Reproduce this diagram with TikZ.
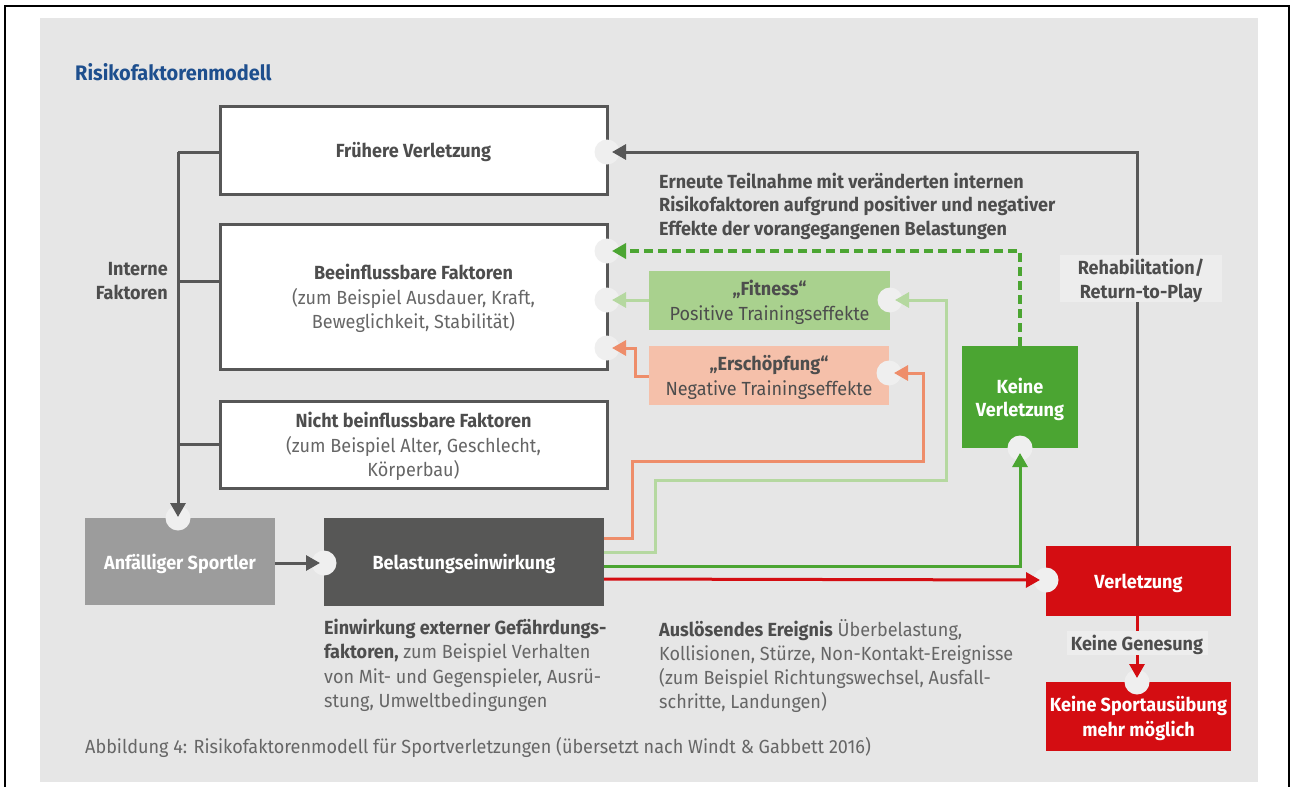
\documentclass[tikz,border=0pt]{standalone}
\usepackage{fontspec}
\setmainfont[FakeStretch=0.95]{Fira Sans}
\usetikzlibrary{arrows.meta,calc}
\definecolor{bgc}{HTML}{E6E6E6}
\definecolor{notchc}{HTML}{EFEFEF}
\definecolor{dgray}{HTML}{575757}
\definecolor{tdark}{HTML}{4D4D4D}
\definecolor{tlight}{HTML}{666666}
\definecolor{titleblue}{HTML}{1E4F8E}
\definecolor{anfc}{HTML}{9C9C9C}
\definecolor{belc}{HTML}{575756}
\definecolor{fitfill}{HTML}{A9D18E}
\definecolor{fitline}{HTML}{B5D8A0}
\definecolor{ersfill}{HTML}{F5C0AA}
\definecolor{ersline}{HTML}{EE8D6A}
\definecolor{greenc}{HTML}{4BA532}
\definecolor{redc}{HTML}{D40D12}
\definecolor{labelbg}{HTML}{EDEDED}
\tikzset{
  x=1pt, y=-1pt,
  txt/.style={font=\fontsize{19}{24.5}\selectfont, text=tlight, inner sep=0pt},
  wbox/.style={txt, text depth=0pt, draw=dgray, line width=3pt, fill=white, align=center, minimum width=387pt},
  fbox/.style={txt, text depth=0pt, align=center, text=white, font=\fontsize{19}{24.5}\selectfont\bfseries},
  notch/.style={circle, fill=notchc, minimum size=25pt, inner sep=0pt},
  tip/.style={-{Triangle[length=14pt,width=15pt]}},
  dline/.style={line width=3pt, draw=dgray, tip},
  gline/.style={line width=3pt, draw=greenc, tip},
  fline/.style={line width=3pt, draw=fitline, tip},
  eline/.style={line width=3pt, draw=ersline, tip},
  rline/.style={line width=3pt, draw=redc, tip},
  lbl/.style={txt, text depth=0pt, fill=labelbg, align=center, font=\fontsize{19}{24.5}\selectfont\bfseries, text=tdark},
}
\begin{document}
\begin{tikzpicture}
\useasboundingbox (0,0) rectangle (1291,787);
\fill[white] (0,0) rectangle (1291,787);
\fill[bgc] (40,18) rectangle (1258,782);
\draw[line width=2pt] (5,787) -- (5,5.5) -- (1289,5.5) -- (1289,787);

% title
\node[txt, anchor=west, text=titleblue, font=\fontsize{21}{24}\selectfont\bfseries] (title) at (75,72) {Risikofaktorenmodell};

% white boxes
\node[wbox, minimum height=88pt] (fru) at (413.5,150) {\textbf{\color{tdark}Frühere Verletzung}};
\node[wbox, minimum height=145pt] (bee) at (413.5,296.5) {\textbf{\color{tdark}Beeinflussbare Faktoren}\\(zum Beispiel Ausdauer, Kraft,\\Beweglichkeit, Stabilität)};
\node[wbox, minimum height=87pt] (nicht) at (413.5,444.5) {\textbf{\color{tdark}Nicht beinflussbare Faktoren}\\(zum Beispiel Alter, Geschlecht,\\Körperbau)};

% filled boxes
\node[fbox, fill=anfc, minimum width=190pt, minimum height=87pt] (anf) at (180,561.5) {Anfälliger Sportler};
\node[fbox, fill=belc, minimum width=280pt, minimum height=88pt] (bel) at (464,562) {Belastungseinwirkung};
\node[txt, text depth=0pt, fill=fitfill, align=center, minimum width=241pt, minimum height=59pt, text=tdark] (fit) at (769.5,300.5) {\textbf{„Fitness“}\\Positive Trainingseffekte};
\node[txt, text depth=0pt, fill=ersfill, align=center, minimum width=240pt, minimum height=59pt, text=tdark] (ers) at (769,375.5) {\textbf{„Erschöpfung“}\\Negative Trainingseffekte};
\node[fbox, fill=greenc, minimum width=116pt, minimum height=102pt, font=\fontsize{19}{23}\selectfont\bfseries] (kv) at (1020,397) {Keine\\Verletzung};
\node[fbox, fill=redc, minimum width=185pt, minimum height=70pt] (verl) at (1138.5,581) {Verletzung};
\node[fbox, fill=redc, minimum width=185pt, minimum height=69pt] (ksp) at (1138.5,716.5) {Keine Sportausübung\\mehr möglich};

% notches
\node[notch] (c1) at (607,152) {};
\node[notch] (c2) at (607,251) {};
\node[notch] (c3) at (607,300) {};
\node[notch] (c4) at (607,348) {};
\node[notch] (c5) at (890,300) {};
\node[notch] (c6) at (889,373) {};
\node[notch] (c7) at (1020,448) {};
\node[notch] (c8) at (1046,580) {};
\node[notch] (c9) at (1137,682) {};
\node[notch] (c10) at (178,518) {};
\node[notch] (c11) at (324,563) {};

% bend points
\coordinate (vl) at (178,152);
\coordinate (ra) at (1137,546);
\coordinate (ea) at (635,376);
\coordinate (fa) at (655,552);
\coordinate (fb) at (946,480);
\coordinate (sa) at (632,538);
\coordinate (sb) at (923,461);
\coordinate (gs) at (604,566);
\coordinate (rs) at (604,579);
\coordinate (bs) at (178,281);

% internal factors bracket
\draw[line width=3pt, draw=dgray] (fru.west |- vl) -- (vl);
\draw[line width=3pt, draw=dgray] (bee.west |- bs) -- (bs);
\draw[line width=3pt, draw=dgray] (nicht.west) -- (vl |- nicht.west);
\draw[dline, shorten >=1pt] (vl) -- (c10.center);
\node[txt, text depth=0pt, align=right, anchor=east, font=\fontsize{19}{24.5}\selectfont\bfseries, text=tdark] (intern) at (168,281) {Interne\\Faktoren};

% main flow
\draw[dline, shorten >=4pt] (anf.east |- c11) -- (c11.center);
\draw[dline, shorten >=5pt] (ra) -- (ra |- c1) -- (c1.center);
\draw[gline, line width=3.5pt, dashed, dash pattern=on 9pt off 5pt, shorten >=5pt] (kv.north) -- (kv.north |- c2) -- (c2.center);
\draw[fline, shorten >=5pt] (fit.west |- c3) -- (c3.center);
\draw[eline, shorten >=5pt] (ers.west |- ea) -- (ea) -- (ea |- c4) -- (c4.center);
\draw[fline, shorten >=5pt] (bel.east |- fa) -- (fa) -- (fa |- fb) -- (fb) -- (fb |- c5) -- (c5.center);
\draw[eline, shorten >=5pt] (bel.east |- sa) -- (sa) -- (sa |- sb) -- (sb) -- (sb |- c6) -- (c6.center);
\draw[gline, shorten >=5pt] (gs) -- (gs -| c7) -- (c7.center);
\draw[rline, shorten >=6pt] (rs) -- (c8.center);
\draw[rline, shorten >=4pt] (verl.south -| c9) -- (c9.center);

% labels
\node[lbl, minimum width=162pt, minimum height=47pt] (reha) at (1141,278.5) {Rehabilitation/\\Return-to-Play};
\node[lbl, minimum width=141pt, minimum height=24pt] (kg) at (1137,643) {Keine Genesung};
\node[txt, anchor=north west, align=left, text=tdark, font=\fontsize{19}{23.5}\selectfont\bfseries] (ern) at (659,172.5) {Erneute Teilnahme mit veränderten internen\\Risikofaktoren aufgrund positiver und negativer\\Effekte der vorangegangenen Belastungen};
\node[txt, anchor=north west, align=left, font=\fontsize{19}{24.2}\selectfont] (einw) at (324,619) {\textbf{\color{tdark}Einwirkung externer Gefährdungs-}\\\textbf{\color{tdark}faktoren,} zum Beispiel Verhalten\\von Mit- und Gegenspieler, Ausrü-\\stung, Umweltbedingungen};
\node[txt, anchor=north west, align=left, font=\fontsize{19}{24.2}\selectfont] (ausl) at (659,619) {\textbf{\color{tdark}Auslösendes Ereignis} Überbelastung,\\Kollisionen, Stürze, Non-Kontakt-Ereignisse\\(zum Beispiel Richtungswechsel, Ausfall-\\schritte, Landungen)};
\node[txt, anchor=west] (cap) at (85,747) {Abbildung 4: Risikofaktorenmodell für Sportverletzungen (übersetzt nach Windt \& Gabbett 2016)};
\end{tikzpicture}
\end{document}
